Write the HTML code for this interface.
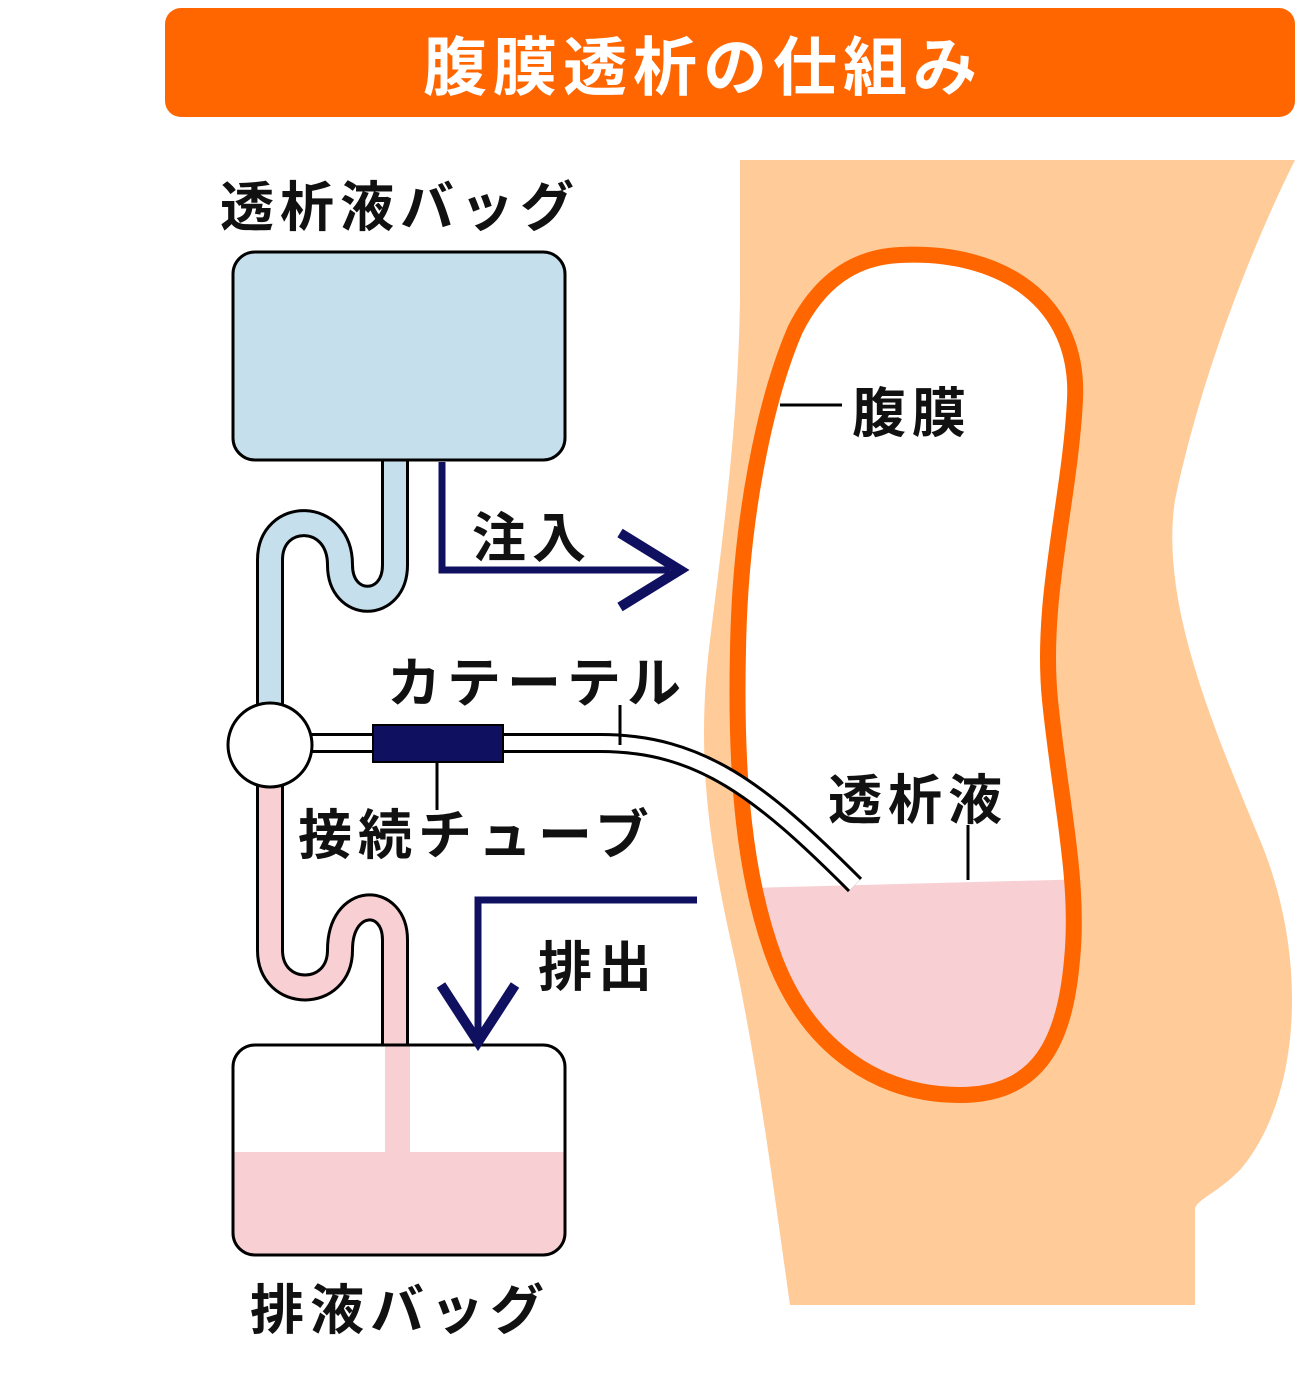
<!DOCTYPE html>
<html><head><meta charset="utf-8"><style>
html,body{margin:0;padding:0;background:#fff;}
svg text{font-family:"Liberation Sans","Noto Sans CJK JP",sans-serif;}
</style></head><body>
<svg width="1300" height="1380" viewBox="0 0 1300 1380" xmlns="http://www.w3.org/2000/svg">
<rect x="165" y="8" width="1130" height="109" rx="16" fill="#FF6600"/>
<text x="703" y="90" font-size="64" font-weight="bold" fill="#fff" text-anchor="middle" letter-spacing="6">腹膜透析の仕組み</text>

<path d="M740,160 L1295,160 C1250,250 1200,380 1175,500 C1160,600 1210,720 1260,840 C1310,960 1300,1100 1240,1170 C1215,1195 1195,1200 1195,1210 L1195,1305 L790,1305 C775,1200 760,1080 735,960 C710,850 695,760 710,640 C725,520 738,420 740,300 Z" fill="#FFCC99"/>

<path d="M900,255 C1000,250 1080,300 1075,400 C1070,500 1040,600 1050,700 C1060,800 1080,880 1072,960 C1065,1040 1040,1095 960,1095 C880,1095 810,1050 775,960 C745,880 735,780 738,650 C740,520 765,400 795,330 C820,280 855,257 900,255 Z" fill="#fff"/>
<clipPath id="mc"><path d="M900,255 C1000,250 1080,300 1075,400 C1070,500 1040,600 1050,700 C1060,800 1080,880 1072,960 C1065,1040 1040,1095 960,1095 C880,1095 810,1050 775,960 C745,880 735,780 738,650 C740,520 765,400 795,330 C820,280 855,257 900,255 Z"/></clipPath>
<rect x="700" y="884" width="400" height="250" fill="#F8D0D4" clip-path="url(#mc)" transform="rotate(-1.5 900 884)"/>
<path d="M900,255 C1000,250 1080,300 1075,400 C1070,500 1040,600 1050,700 C1060,800 1080,880 1072,960 C1065,1040 1040,1095 960,1095 C880,1095 810,1050 775,960 C745,880 735,780 738,650 C740,520 765,400 795,330 C820,280 855,257 900,255 Z" fill="none" stroke="#FF6600" stroke-width="16"/>

<path d="M395,455 L395,565 C395,610 340,610 340,565 C340,510 270,510 270,560 L270,740" fill="none" stroke="#000" stroke-width="28"/>
<path d="M395,455 L395,565 C395,610 340,610 340,565 C340,510 270,510 270,560 L270,740" fill="none" stroke="#C5E0EC" stroke-width="22"/>
<path d="M270,750 L270,950 C270,1000 340,1000 340,950 C340,895 395,895 395,940 L395,1050" fill="none" stroke="#000" stroke-width="28"/>
<path d="M270,750 L270,950 C270,1000 340,1000 340,950 C340,895 395,895 395,940 L395,1050" fill="none" stroke="#F8D0D4" stroke-width="22"/>
<path d="M300,743 L600,743 C700,743 760,790 855,885" fill="none" stroke="#000" stroke-width="20"/>
<path d="M300,743 L600,743 C700,743 760,790 855,885" fill="none" stroke="#fff" stroke-width="14"/>

<rect x="233" y="252" width="332" height="208" rx="22" fill="#C5E0EC" stroke="#000" stroke-width="3"/>
<clipPath id="bc"><rect x="233" y="1045" width="332" height="210" rx="22"/></clipPath>
<rect x="233" y="1045" width="332" height="210" rx="22" fill="#fff"/>
<rect x="233" y="1152" width="332" height="110" fill="#F8D0D4" clip-path="url(#bc)"/>
<rect x="385" y="1045" width="25" height="107" fill="#F8D0D4"/>
<rect x="233" y="1045" width="332" height="210" rx="22" fill="none" stroke="#000" stroke-width="3"/>

<circle cx="270" cy="745" r="42" fill="#fff" stroke="#000" stroke-width="3"/>
<rect x="373" y="725" width="130" height="37" fill="#101060" stroke="#000" stroke-width="2"/>

<path d="M442,462 L442,570 L670,570" fill="none" stroke="#101060" stroke-width="7"/>
<path d="M620,533 L680,570 L620,607" fill="none" stroke="#101060" stroke-width="10"/>
<path d="M697,900 L478,900 L478,1035" fill="none" stroke="#101060" stroke-width="7"/>
<path d="M441,985 L478,1042 L515,985" fill="none" stroke="#101060" stroke-width="10"/>

<line x1="780" y1="405" x2="842" y2="405" stroke="#000" stroke-width="3"/>
<line x1="620" y1="705" x2="620" y2="745" stroke="#000" stroke-width="3"/>
<line x1="437" y1="762" x2="437" y2="810" stroke="#000" stroke-width="3"/>
<line x1="968" y1="825" x2="968" y2="880" stroke="#000" stroke-width="3"/>

<g font-size="54" fill="#111" font-weight="bold" letter-spacing="6">
<text x="220" y="226">透析液バッグ</text>
<text x="472" y="557">注入</text>
<text x="852" y="432">腹膜</text>
<text x="387" y="702">カテーテル</text>
<text x="298" y="854">接続チューブ</text>
<text x="828" y="819">透析液</text>
<text x="538" y="986">排出</text>
<text x="250" y="1329">排液バッグ</text>
</g>
</svg>
</body></html>
